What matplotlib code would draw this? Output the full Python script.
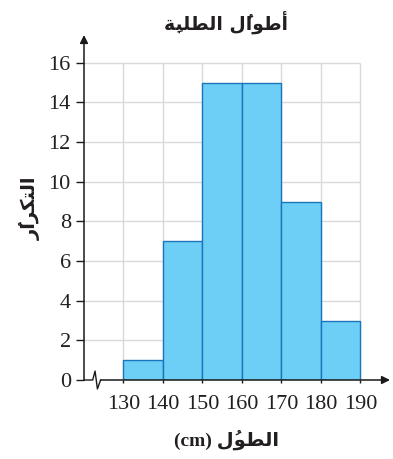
import matplotlib
matplotlib.use("Agg")
import matplotlib.pyplot as plt

# histogram data
bin_edges = [130, 140, 150, 160, 170, 180, 190]
counts = [1, 7, 15, 15, 9, 3]
y_ticks = [0, 2, 4, 6, 8, 10, 12, 14, 16]

# Arabic labels, already shaped (presentation forms) and in visual order
# title: أطوالُ الطلبةِ
title_txt = "\ufe94\u0650\ufe92\ufee0\ufec4\ufedf\ufe8d \ufedd\u064f\ufe8d\ufeee\ufec3\ufe83"
# y label: التكرارُ
ylabel_txt = "\ufead\u064f\ufe8d\ufeae\ufedc\ufe98\ufedf\ufe8d"
# x label: الطولُ (cm)
xlabel_txt = "(cm) \ufedd\u064f\ufeee\ufec4\ufedf\ufe8d"

serif = "Liberation Serif"
mixed = [serif, "DejaVu Sans"]

fig = plt.figure(figsize=(3.93, 4.59), dpi=100)
ax = fig.add_axes([84 / 393, 79 / 459, (390 - 84) / 393, (380 - 35) / 459])

x0 = 120
ax.set_xlim(x0, 197.5)
ax.set_ylim(0, 17.4)

# grid only over the data region
ax.hlines(y_ticks[1:], x0, bin_edges[-1], color="#d9d9d9", lw=1, zorder=0)
ax.vlines(bin_edges, 0, y_ticks[-1], color="#d9d9d9", lw=1, zorder=0)

widths = [b - a for a, b in zip(bin_edges[:-1], bin_edges[1:])]
ax.bar(bin_edges[:-1], counts, width=widths, align="edge",
       color="#6dcff6", edgecolor="#1b75bc", linewidth=1, zorder=2)

for s in ax.spines.values():
    s.set_visible(False)

# axes with arrows and a break mark on x
ax.annotate("", xy=(0, 1), xytext=(0, 0), xycoords="axes fraction",
            arrowprops=dict(arrowstyle="-|>", color="#1a1a1a", lw=1.1,
                            mutation_scale=12, shrinkA=0, shrinkB=0))
ax.plot([x0, 122.2, 122.8, 123.4, 124.2], [0, 0, 0.45, -0.45, 0],
        color="#1a1a1a", lw=1.0, clip_on=False, zorder=3)
ax.annotate("", xy=(1, 0), xytext=(124.2, 0), xycoords="axes fraction",
            textcoords="data",
            arrowprops=dict(arrowstyle="-|>", color="#1a1a1a", lw=1.1,
                            mutation_scale=12, shrinkA=0, shrinkB=0))

ax.set_yticks(y_ticks)
ax.set_xticks(bin_edges)
ax.tick_params(axis="y", length=6, width=1, color="#1a1a1a", pad=3.5)
ax.tick_params(axis="x", length=2.5, width=1, color="#1a1a1a", pad=8.5)
for lab in ax.get_xticklabels() + ax.get_yticklabels():
    lab.set_fontfamily(serif)
    lab.set_fontsize(16)
    lab.set_color("#231f20")

fig.text(226 / 393, 1 - 22 / 459, title_txt, ha="center", va="center",
         fontsize=13.5, fontweight="bold", family="DejaVu Sans", color="#231f20")
fig.text(30 / 393, 1 - 208 / 459, ylabel_txt, ha="center", va="center",
         rotation=90, fontsize=14, fontweight="bold", family="DejaVu Sans",
         color="#231f20")
fig.text(227 / 393, 1 - 440 / 459, xlabel_txt, ha="center", va="center",
         fontsize=14, fontweight="bold", family=mixed, color="#231f20")

fig.savefig("out.png", dpi=100)
